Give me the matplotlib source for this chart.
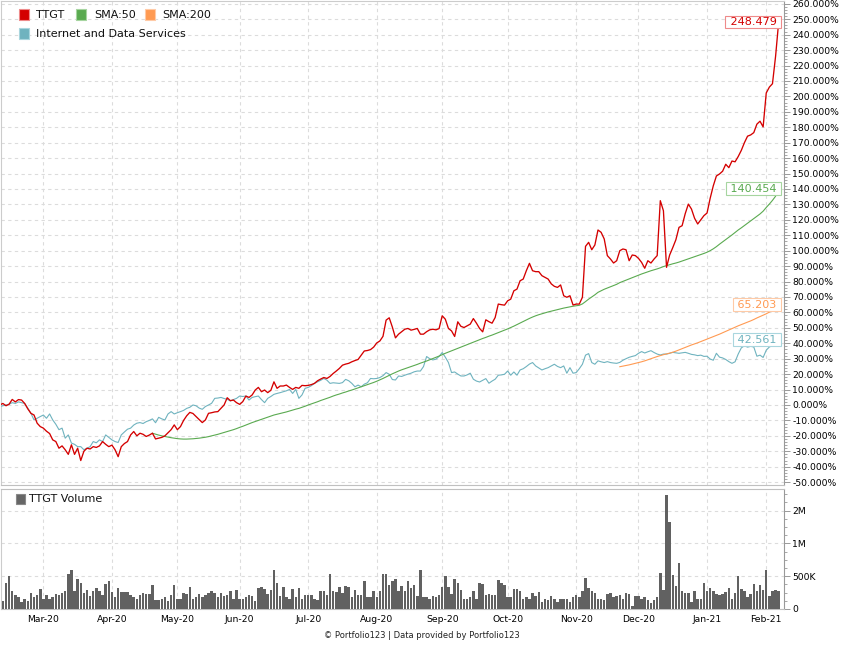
import numpy as np
import pandas as pd
import matplotlib
matplotlib.use("Agg")
import matplotlib.pyplot as plt
from matplotlib.patches import Rectangle
from matplotlib.ticker import FixedLocator, MultipleLocator, FuncFormatter

plt.rcParams['font.family'] = ['DejaVu Sans']

# ---------------- data ----------------
first_day = "2020-02-10"
last_day = "2021-02-05"
market_holidays = ["2020-02-17", "2020-04-10", "2020-05-25", "2020-07-03", "2020-09-07",
                   "2020-11-26", "2020-12-25", "2021-01-01", "2021-01-18"]

ttgt = [0.0, 1.0, -0.5, 0.5, 3.6, 2.0, 3.5, 3.2, 1.0, -2.5,
        -5.4, -6.5, -11.8, -14.0, -15.0, -17.0, -18.5, -22.6, -23.7, -28.0,
        -26.5, -29.0, -32.0, -25.8, -32.0, -28.0, -36.0, -30.0, -28.0, -28.5,
        -27.0, -27.5, -26.5, -23.7, -25.5, -27.0, -26.0, -29.0, -33.5, -27.0,
        -25.0, -23.7, -19.4, -17.2, -20.0, -18.3, -19.0, -20.4, -19.5, -18.3,
        -22.0, -21.5, -21.0, -20.0, -18.0, -16.0, -12.9, -16.0, -14.0, -10.0,
        -7.0, -4.8, -5.5, -7.5, -9.5, -11.4, -9.7, -5.4, -5.0, -4.5,
        -4.3, -2.2, 0.0, 4.7, 2.8, 3.2, 1.5, 0.4, 2.2, 5.8,
        4.9, 6.5, 9.7, 11.4, 8.6, 9.7, 8.0, 9.5, 15.0, 10.8,
        12.3, 12.3, 12.9, 11.4, 10.1, 11.4, 10.8, 12.7, 12.5, 12.7,
        13.2, 14.0, 15.7, 16.8, 17.8, 17.2, 18.5, 20.4, 22.0, 23.7,
        25.8, 26.5, 27.0, 28.0, 28.8, 29.5, 32.3, 35.0, 35.3, 35.9,
        37.5, 40.2, 41.5, 44.5, 55.0, 56.5, 50.5, 43.5, 45.9, 47.5,
        49.1, 49.6, 48.5, 49.0, 49.6, 45.9, 45.9, 47.5, 48.7, 49.1,
        48.7, 49.5, 57.8, 55.6, 49.6, 48.0, 44.4, 53.9, 51.0, 50.2,
        51.3, 52.4, 56.0, 53.0, 49.6, 47.4, 55.2, 54.0, 53.0, 56.7,
        65.4, 65.0, 64.7, 67.5, 68.6, 74.0, 75.1, 80.5, 81.6, 87.0,
        91.8, 87.0, 86.4, 86.4, 83.8, 82.7, 81.6, 78.5, 76.9, 76.2,
        77.8, 70.8, 69.8, 70.8, 64.8, 65.4, 65.4, 69.8, 102.8, 105.4,
        100.6, 103.7, 113.4, 111.9, 107.6, 96.8, 94.6, 92.0, 93.5, 100.0,
        101.1, 100.6, 93.5, 97.2, 96.8, 95.0, 92.4, 88.6, 93.5, 92.0,
        94.6, 96.8, 132.4, 125.9, 89.2, 97.2, 102.0, 107.1, 115.1, 116.2,
        124.0, 130.2, 127.0, 121.0, 117.3, 120.0, 122.7, 124.4, 133.9, 142.0,
        148.4, 149.7, 151.5, 156.0, 153.8, 158.1, 157.6, 161.0, 165.0, 170.0,
        174.2, 175.0, 176.5, 182.0, 183.9, 180.2, 202.2, 206.0, 208.2, 226.0,
        248.479]

internet_data_services = [
        -1.0, -0.5, 0.0, 0.5, 1.5, 1.0, 2.0, 1.5, 1.0, -2.0,
        -5.4, -9.7, -8.6, -7.5, -6.5, -8.6, -5.8, -9.7, -12.5, -16.0,
        -15.0, -21.5, -19.4, -24.7, -25.5, -27.0, -27.0, -29.0, -28.0, -27.0,
        -23.7, -24.5, -22.6, -23.7, -19.4, -21.0, -22.6, -23.7, -24.3, -19.4,
        -17.5, -15.7, -15.0, -13.0, -11.8, -11.4, -12.0, -10.8, -10.0, -9.0,
        -11.5, -8.0, -9.0, -9.7, -5.8, -4.3, -5.8, -5.0, -4.3, -3.5,
        -2.2, -1.5, 0.0, -0.5, -2.0, -2.8, -1.0, 0.0, 1.1, 4.3,
        4.5, 4.9, 4.2, 3.7, 2.6, 3.5, 4.3, 5.8, 5.5, 5.8,
        3.2, 4.9, 5.4, 5.8, 3.5, 1.5, 4.3, 5.5, 6.9, 7.5,
        8.0, 8.6, 9.2, 10.1, 7.5, 10.1, 4.3, 6.5, 10.8, 11.4,
        12.5, 14.0, 15.0, 16.0, 17.2, 16.1, 14.0, 14.4, 14.2, 14.0,
        14.5, 16.6, 15.7, 14.0, 11.8, 12.9, 11.8, 13.5, 14.4, 17.2,
        17.0, 17.2, 17.8, 19.0, 21.0, 19.9, 16.5, 16.2, 18.8, 18.5,
        19.3, 20.0, 20.6, 21.5, 22.0, 22.0, 24.9, 31.4, 30.0, 29.2,
        29.7, 31.5, 34.0, 31.0, 27.5, 21.0, 21.4, 20.0, 18.8, 18.8,
        19.5, 20.6, 16.7, 15.5, 14.9, 16.0, 17.1, 14.1, 15.5, 16.7,
        19.3, 19.5, 19.9, 22.0, 19.3, 21.4, 19.3, 22.7, 23.5, 24.9,
        26.5, 27.5, 25.3, 24.0, 22.7, 23.5, 24.2, 25.3, 26.4, 25.0,
        24.2, 25.3, 20.6, 24.2, 20.6, 21.0, 23.5, 26.4, 32.3, 33.3,
        27.5, 26.4, 28.6, 28.0, 27.5, 28.1, 27.5, 27.2, 27.0, 27.6,
        29.0, 30.0, 30.9, 31.5, 32.0, 33.5, 34.6, 33.7, 34.5, 35.2,
        34.0, 33.0, 32.4, 33.0, 33.0, 33.5, 34.1, 33.8, 33.5, 33.8,
        34.1, 33.5, 32.8, 32.5, 32.0, 32.3, 31.5, 31.6, 29.8, 29.0,
        33.5, 31.0, 30.5, 29.5, 28.1, 27.0, 28.0, 33.0, 37.0, 38.4,
        37.5, 38.0, 37.6, 31.6, 32.3, 30.8, 35.5, 37.6, 38.5, 40.0,
        42.561]

sma50_first_day = "2020-04-21"
sma50 = [-18.3, -18.9, -19.5, -20.0, -20.4, -20.8, -21.2, -21.5, -21.8, -22.0,
         -22.1, -22.1, -22.0, -21.9, -21.7, -21.5, -21.2, -20.9, -20.5, -20.0,
         -19.5, -19.0, -18.4, -17.8, -17.2, -16.6, -16.0, -15.3, -14.5, -13.8,
         -13.0, -12.2, -11.4, -10.7, -10.0, -9.3, -8.6, -7.9, -7.2, -6.5,
         -6.0, -5.5, -5.0, -4.5, -3.9, -3.3, -2.7, -2.2, -1.5, -0.8,
         0.0, 0.7, 1.4, 2.1, 2.9, 3.6, 4.3, 5.0, 5.8, 6.5,
         7.1, 7.8, 8.4, 9.1, 9.7, 10.4, 11.1, 11.8, 12.5, 13.2,
         13.9, 14.6, 15.4, 16.3, 17.2, 18.2, 19.2, 20.2, 21.1, 22.0,
         22.8, 23.5, 24.2, 24.9, 25.6, 26.3, 27.1, 27.8, 28.5, 29.3,
         30.1, 30.9, 31.7, 32.6, 33.5, 34.3, 35.1, 35.9, 36.7, 37.5,
         38.3, 39.1, 39.9, 40.7, 41.5, 42.3, 43.1, 43.8, 44.6, 45.3,
         46.1, 46.9, 47.7, 48.5, 49.3, 50.2, 51.1, 52.1, 53.1, 54.1,
         55.1, 56.1, 57.0, 57.8, 58.5, 59.1, 59.7, 60.3, 60.8, 61.3,
         61.8, 62.3, 62.8, 63.2, 63.6, 64.0, 64.3, 64.6, 65.5, 67.0,
         68.6, 70.0, 71.4, 73.0, 74.0, 75.0, 75.8, 76.6, 77.4, 78.2,
         79.3, 80.1, 80.9, 81.7, 82.5, 83.3, 84.1, 84.9, 85.6, 86.3,
         87.0, 87.6, 88.2, 88.9, 89.7, 90.3, 90.9, 91.5, 92.0, 92.6,
         93.3, 94.0, 94.7, 95.4, 96.1, 96.8, 97.5, 98.2, 99.0, 100.0,
         101.2, 102.6, 104.2, 105.7, 107.2, 108.7, 110.2, 111.8, 113.4, 114.8,
         116.3, 117.8, 119.3, 120.8, 122.3, 123.8, 125.6, 128.0, 130.2, 132.6,
         135.3, 140.454]

sma200_first_day = "2020-11-20"
sma200 = [24.8, 25.2, 25.6, 26.0, 26.5, 27.0, 27.5, 28.0, 28.6, 29.3,
          30.0, 30.7, 31.4, 32.0, 32.6, 33.1, 33.6, 34.2, 34.9, 35.7,
          36.5, 37.3, 38.1, 38.9, 39.6, 40.3, 41.1, 41.9, 42.7, 43.5,
          44.3, 45.1, 45.9, 46.8, 47.7, 48.6, 49.5, 50.4, 51.3, 52.1,
          52.9, 53.7, 54.5, 55.4, 56.4, 57.3, 58.2, 59.1, 60.2, 61.5,
          63.0, 65.203]

# TTGT daily volume, millions of shares
volume_millions = [
    0.09, 0.12, 0.40, 0.50, 0.28, 0.22, 0.18, 0.10, 0.15, 0.12,
    0.24, 0.18, 0.22, 0.31, 0.16, 0.22, 0.16, 0.19, 0.23, 0.21,
    0.24, 0.28, 0.53, 0.60, 0.28, 0.46, 0.40, 0.24, 0.29, 0.20,
    0.28, 0.32, 0.27, 0.22, 0.38, 0.42, 0.26, 0.18, 0.32, 0.26,
    0.26, 0.26, 0.22, 0.18, 0.16, 0.22, 0.24, 0.23, 0.23, 0.37,
    0.13, 0.13, 0.16, 0.19, 0.12, 0.22, 0.36, 0.15, 0.15, 0.24,
    0.23, 0.34, 0.15, 0.19, 0.23, 0.19, 0.22, 0.24, 0.27, 0.24,
    0.19, 0.24, 0.20, 0.21, 0.28, 0.16, 0.29, 0.16, 0.15, 0.19,
    0.21, 0.20, 0.12, 0.32, 0.34, 0.31, 0.23, 0.29, 0.59, 0.40,
    0.20, 0.33, 0.19, 0.15, 0.30, 0.18, 0.32, 0.16, 0.22, 0.22,
    0.21, 0.16, 0.14, 0.28, 0.28, 0.21, 0.54, 0.28, 0.26, 0.34,
    0.25, 0.35, 0.33, 0.19, 0.29, 0.22, 0.21, 0.42, 0.19, 0.18,
    0.27, 0.19, 0.28, 0.53, 0.53, 0.36, 0.43, 0.46,
    0.27, 0.35, 0.28, 0.43, 0.32, 0.36, 0.20, 0.60, 0.18, 0.18,
    0.16, 0.20, 0.18, 0.22, 0.33, 0.50, 0.33, 0.23, 0.45, 0.40,
    0.29, 0.15, 0.16, 0.19, 0.28, 0.16, 0.39, 0.38, 0.22, 0.23,
    0.22, 0.22, 0.44, 0.40, 0.37, 0.18, 0.18, 0.31, 0.31, 0.28,
    0.16, 0.18, 0.16, 0.24, 0.20, 0.26, 0.10, 0.16, 0.14, 0.20,
    0.16, 0.10, 0.15, 0.15, 0.15, 0.10, 0.18, 0.22, 0.18, 0.28,
    0.48, 0.32, 0.28, 0.24, 0.15, 0.15, 0.14, 0.23, 0.24, 0.19,
    0.20, 0.22, 0.16, 0.24, 0.23, 0.05, 0.20, 0.20, 0.15, 0.18,
    0.14, 0.09, 0.14, 0.19, 0.55, 0.29, 1.745, 1.33, 0.52, 0.35,
    0.70, 0.28, 0.24, 0.25, 0.10, 0.27, 0.15, 0.15, 0.39, 0.27,
    0.32, 0.28, 0.23, 0.22, 0.23, 0.26, 0.32, 0.16, 0.24, 0.50,
    0.31, 0.28, 0.19, 0.23, 0.38, 0.27, 0.36, 0.29, 0.59, 0.20,
    0.27, 0.29, 0.28]

vol_tick_values = [0.0, 0.5, 1.0, 1.5]
vol_tick_labels = ["0", "500K", "1M", "2M"]

legend_labels = ["TTGT", "SMA:50", "SMA:200", "Internet and Data Services"]
volume_label = "TTGT Volume"
footer = "\u00a9 Portfolio123 | Data provided by Portfolio123"

# ---------------- styling ----------------
C_RED, C_GREEN, C_ORANGE, C_BLUE = "#d40000", "#5aaa50", "#ff9a52", "#6fb3bf"
E_RED, E_GREEN, E_ORANGE, E_BLUE = "#ee8a8a", "#a6d5a0", "#ffcaa6", "#a9d6de"
C_BAR = "#616161"
GRID = dict(color="#dcdcdc", linestyle=(0, (3, 3)), linewidth=0.8)

dates = pd.bdate_range(first_day, last_day, freq="C", holidays=market_holidays)
x = np.arange(len(dates))
i50 = dates.get_loc(pd.Timestamp(sma50_first_day))
i200 = dates.get_loc(pd.Timestamp(sma200_first_day))
x50 = x[i50:i50 + len(sma50)]
x200 = x[i200:i200 + len(sma200)]
month_starts = [i for i in range(1, len(dates)) if dates[i].month != dates[i - 1].month]
month_labels = [dates[i].strftime("%b-%y") for i in month_starts]

W, H = 845, 650
fig = plt.figure(figsize=(W / 100, H / 100), dpi=100)


def rect(l, t, r, b):
    return [l / W, 1 - b / H, (r - l) / W, (b - t) / H]


ax = fig.add_axes(rect(1, 1, 784, 485))
axv = fig.add_axes(rect(1, 489, 784, 609))
XLIM = (0.4, 251.7)

# ---- main panel ----
ax.plot(x, internet_data_services, color=C_BLUE, lw=0.8, zorder=3)
ax.plot(x200, sma200, color=C_ORANGE, lw=0.8, zorder=3)
ax.plot(x50, sma50, color=C_GREEN, lw=0.8, zorder=4)
ax.plot(x, ttgt, color=C_RED, lw=0.95, zorder=5)
ax.set_xlim(*XLIM)
ax.set_ylim(-51.85, 261.8)
ax.yaxis.tick_right()
ax.yaxis.set_major_locator(MultipleLocator(10))
ax.yaxis.set_minor_locator(MultipleLocator(2))
ax.yaxis.set_major_formatter(FuncFormatter(lambda v, p: f"{v:.3f}%"))
ax.set_xticks(month_starts)
ax.tick_params(axis="x", which="both", length=0, labelbottom=False)
ax.tick_params(axis="y", which="major", length=4, width=0.7, color="#999999",
               labelsize=6.7, pad=2)
ax.tick_params(axis="y", which="minor", length=2, width=0.6, color="#999999")
ax.grid(True, which="major", **GRID)
ax.set_axisbelow(True)
for s, c in (("left", "#cccccc"), ("top", "#cccccc"), ("bottom", "#c0c0c0"), ("right", "#999999")):
    ax.spines[s].set_color(c)
    ax.spines[s].set_linewidth(0.8)

for xs, ys, col, ec in ((x, ttgt, C_RED, E_RED), (x50, sma50, C_GREEN, E_GREEN),
                        (x200, sma200, C_ORANGE, E_ORANGE),
                        (x, internet_data_services, C_BLUE, E_BLUE)):
    v = ys[-1]
    ax.annotate(f" {v:.3f} ", xy=(xs[-1], v), xytext=(1, -0.3), textcoords="offset points",
                ha="right", va="center", fontsize=8, color=col, zorder=10,
                annotation_clip=False,
                bbox=dict(boxstyle="square,pad=0.12", fc="white", ec=ec, lw=0.8))

# ---- volume panel ----
axv.bar(x, volume_millions, width=0.8, color=C_BAR, linewidth=0, zorder=3)
axv.set_xlim(*XLIM)
axv.set_ylim(0, 1.83)
axv.yaxis.tick_right()
axv.yaxis.set_major_locator(FixedLocator(vol_tick_values))
axv.yaxis.set_major_formatter(FuncFormatter(
    lambda v, p: vol_tick_labels[vol_tick_values.index(v)] if v in vol_tick_values else ""))
axv.yaxis.set_minor_locator(MultipleLocator(0.125))
axv.set_xticks(month_starts)
axv.set_xticklabels(month_labels)
axv.tick_params(axis="x", which="both", length=0, labelsize=6.7, pad=4)
axv.tick_params(axis="y", which="major", length=4, width=0.7, color="#999999",
                labelsize=6.7, pad=2)
axv.tick_params(axis="y", which="minor", length=2, width=0.6, color="#999999")
axv.grid(True, which="major", **GRID)
axv.set_axisbelow(True)
for s, c in (("left", "#cccccc"), ("top", "#c0c0c0"), ("bottom", "#c0c0c0"), ("right", "#999999")):
    axv.spines[s].set_color(c)
    axv.spines[s].set_linewidth(0.8)


# ---- legends ----
def legend_item(px, py, size, fc, ec, label, tx):
    fig.add_artist(Rectangle((px / W, 1 - (py + size) / H), size / W, size / H,
                             transform=fig.transFigure, facecolor=fc, edgecolor=ec, lw=0.8))
    fig.text(tx / W, 1 - (py + size / 2 + 0.5) / H, label, fontsize=8, ha="left", va="center",
             color="#111111")


legend_item(18.5, 9.5, 10.5, C_RED, E_RED, legend_labels[0], 36)
legend_item(76, 9.5, 10.5, C_GREEN, E_GREEN, legend_labels[1], 94)
legend_item(145, 9.5, 10.5, C_ORANGE, E_ORANGE, legend_labels[2], 162)
legend_item(18.5, 28.5, 10.5, C_BLUE, E_BLUE, legend_labels[3], 36)
legend_item(16, 494, 9.5, "#666666", "#888888", volume_label, 29)

fig.text(422 / W, 1 - 636 / H, footer, ha="center", va="center", fontsize=6, color="#222222")

fig.savefig("out.png", dpi=100)
